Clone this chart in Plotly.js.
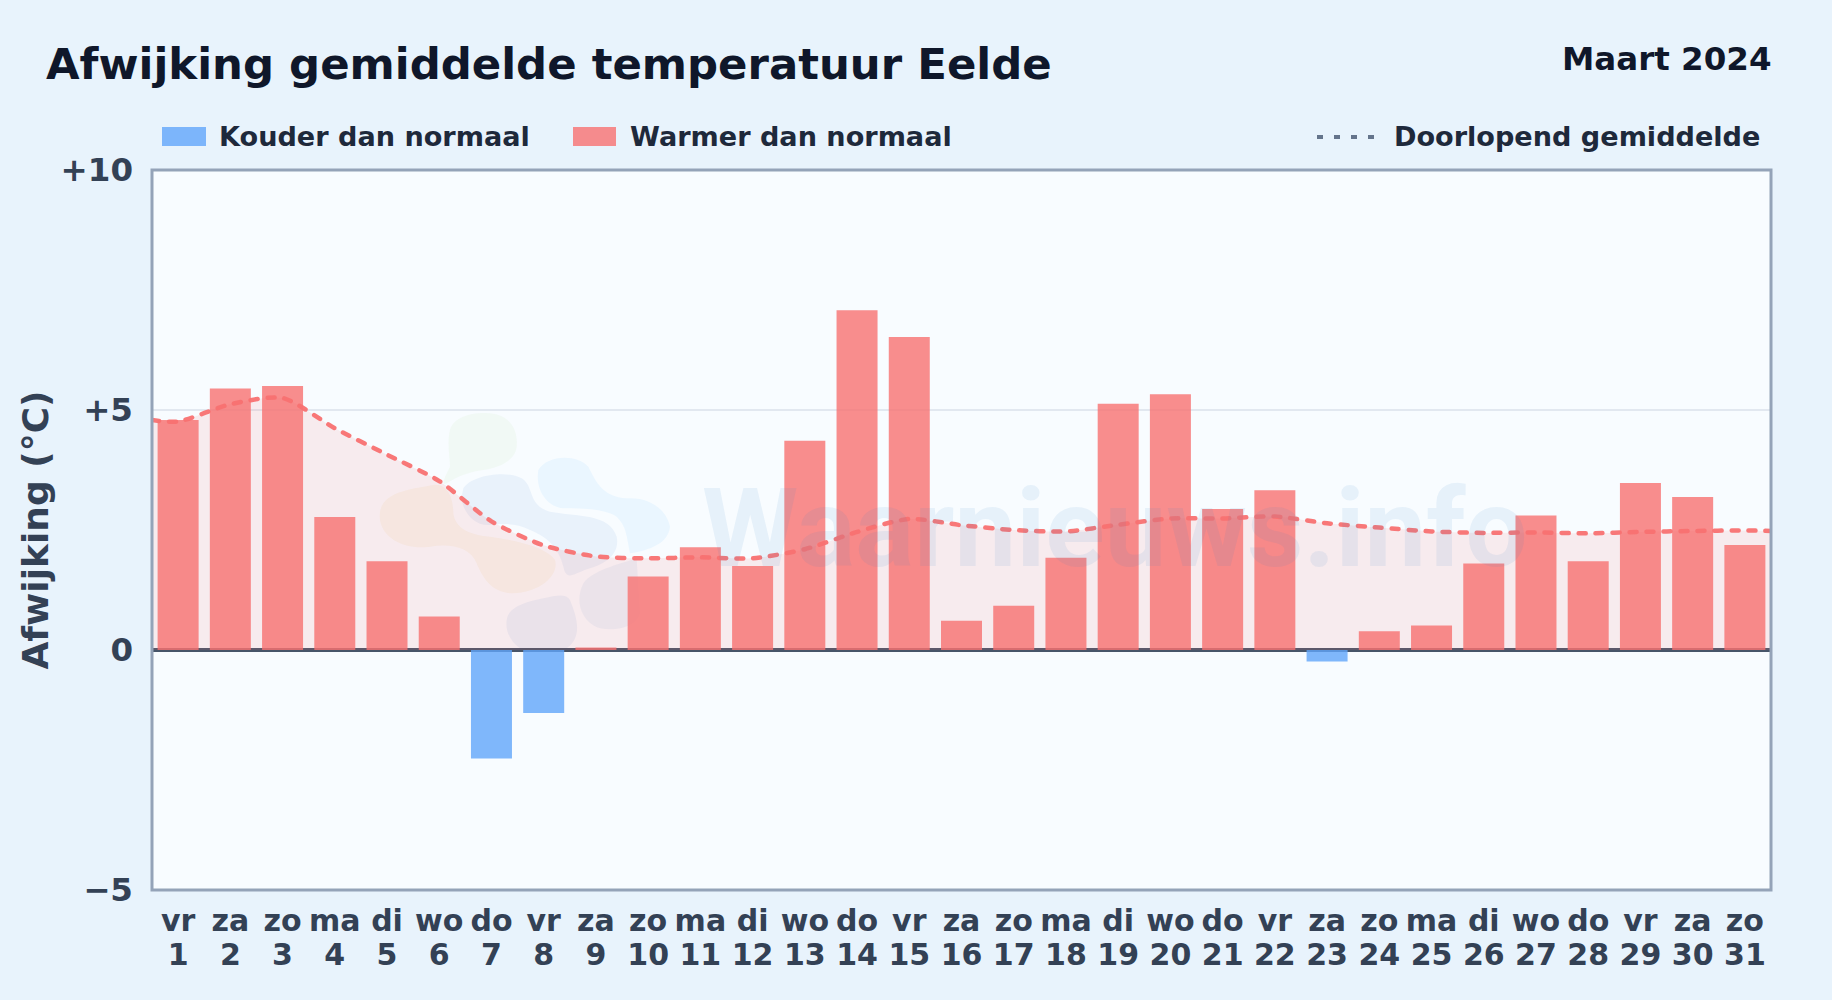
<!DOCTYPE html>
<html>
<head>
<meta charset="utf-8">
<script src="https://cdn.plot.ly/plotly-3.0.1.min.js"></script>
<style>html,body{margin:0;padding:0;background:#e8f3fc;overflow:hidden}
.scatterlayer .js-line{stroke-linecap:round !important}</style>
</head>
<body>
<div id="chart" style="width:1832px;height:1000px"></div>
<script>
const days = [1,2,3,4,5,6,7,8,9,10,11,12,13,14,15,16,17,18,19,20,21,22,23,24,25,26,27,28,29,30,31];
const weekdays = ['vr','za','zo','ma','di','wo','do','vr','za','zo','ma','di','wo','do','vr','za','zo','ma','di','wo','do','vr','za','zo','ma','di','wo','do','vr','za','zo'];
const deviation = [4.79,5.45,5.50,2.77,1.85,0.70,-2.26,-1.31,0.05,1.53,2.14,1.75,4.36,7.08,6.52,0.61,0.92,1.92,5.13,5.33,2.94,3.33,-0.24,0.39,0.51,1.80,2.80,1.85,3.48,3.19,2.19];
const runningX = [0.5,1,2,3,4,5,6,7,8,9,10,11,12,13,14,15,16,17,18,19,20,21,22,23,24,25,26,27,28,29,30,31,31.5];
const runningMean = [4.79,4.76,5.12,5.25,4.62,4.07,3.52,2.68,2.18,1.95,1.91,1.93,1.91,2.10,2.46,2.73,2.60,2.50,2.47,2.61,2.74,2.74,2.78,2.64,2.55,2.47,2.44,2.45,2.43,2.46,2.48,2.49,2.48];
const yTickVals = [-5,0,5,10];
const yTickText = ['\u22125','0','+5','+10'];
const WARM = 'rgba(248,113,113,0.8)', COLD = 'rgba(96,165,250,0.8)';
const W = 1832, H = 1000;
const L = 152, R = 1771, T = 170, B = 890;
const FONT = '"DejaVu Sans", sans-serif';
const px = x => (x - L) / (R - L), py = y => (B - y) / (B - T);

// faint logo blobs behind the chart, given in a local frame
function blob(d, fill) {
  let i = 0;
  const path = d.replace(/-?\d+(\.\d+)?/g, n => {
    const v = parseFloat(n);
    const out = (i++ % 2 === 0) ? px(350 + v / 3) : py(380 + v / 3);
    return out.toFixed(5);
  });
  return {type:'path', xref:'paper', yref:'paper', layer:'below', path, fillcolor:fill, line:{width:0}};
}
const blobs = [
  blob('M 300 150 C 310 110 370 95 420 100 C 480 105 505 150 500 200 C 495 245 440 265 400 270 C 360 275 320 290 290 310 C 270 320 285 290 300 260 C 300 230 290 190 300 150 Z','rgba(190,230,160,0.10)'),
  blob('M 100 370 C 130 330 200 325 250 315 C 290 310 310 350 310 400 C 315 440 350 465 420 470 C 490 480 590 500 615 540 C 630 590 560 640 490 640 C 430 640 400 600 380 550 C 360 500 300 490 240 500 C 170 510 100 480 90 420 C 88 400 90 385 100 370 Z','rgba(235,205,130,0.13)'),
  blob('M 340 325 C 365 285 470 270 515 295 C 555 320 530 375 600 395 C 680 410 780 400 800 470 C 810 520 770 550 720 565 C 680 575 650 610 640 560 C 625 500 590 470 540 450 C 500 430 470 430 420 435 C 370 440 335 390 335 350 Z','rgba(59,130,200,0.08)'),
  blob('M 470 720 C 475 680 530 665 580 655 C 620 645 650 640 660 660 C 680 710 700 770 650 805 L 510 805 C 480 785 465 750 470 720 Z','rgba(59,130,200,0.08)'),
  blob('M 700 610 C 730 570 800 555 860 535 L 870 700 C 860 740 800 755 750 745 C 700 730 670 670 700 610 Z','rgba(59,130,200,0.07)'),
  blob('M 565 270 C 590 225 680 220 715 260 C 740 310 760 350 830 355 C 900 350 950 390 960 440 C 955 490 900 510 840 520 C 830 470 830 440 800 410 C 760 385 690 385 640 385 C 590 380 555 330 565 270 Z','rgba(56,170,248,0.07)')
];

const frame = {type:'rect', xref:'paper', yref:'paper', x0:0, x1:1, y0:0, y1:1, layer:'above', fillcolor:'rgba(0,0,0,0)', line:{color:'#94a3b8', width:3}};
const legendShapes = [
  {type:'rect', xref:'paper', yref:'paper', x0:px(162), x1:px(206), y0:py(127), y1:py(146), fillcolor:COLD, line:{width:0}},
  {type:'rect', xref:'paper', yref:'paper', x0:px(573), x1:px(616), y0:py(127), y1:py(146), fillcolor:WARM, line:{width:0}},
  {type:'line', xref:'paper', yref:'paper', x0:px(1317), x1:px(1376), y0:py(137), y1:py(137), line:{color:'#64748b', width:4, dash:'6px,11px'}}
];
const note = (text, x, y, size, color, anchor, weight) => ({
  text, xref:'paper', yref:'paper', x:px(x), y:py(y), xanchor:anchor, yanchor:'middle', showarrow:false,
  font:{family:FONT, size, color, weight:weight||700}
});

const traces = [
  {type:'scatter', mode:'none', x:runningX, y:runningMean, fill:'tozeroy', fillcolor:'rgba(248,113,113,0.12)', line:{shape:'spline', smoothing:0.7}, hoverinfo:'skip', showlegend:false},
  {type:'bar', x:days, y:deviation, width:0.785, marker:{color:deviation.map(v => v < 0 ? COLD : WARM), line:{width:0}}, showlegend:false},
  {type:'scatter', mode:'lines', x:runningX, y:runningMean, line:{color:'rgba(248,113,113,0.95)', width:4.5, dash:'7px,10px', shape:'spline', smoothing:0.7}, showlegend:false},
  // carries the second row of tick labels (day numbers)
  {type:'scatter', mode:'none', x:days, y:deviation, xaxis:'x2', hoverinfo:'skip', showlegend:false}
];

const layout = {
  width:W, height:H, autosize:false, showlegend:false,
  paper_bgcolor:'#e8f3fc', plot_bgcolor:'#f8fcff',
  margin:{l:L, r:W-R, t:T, b:H-B, pad:0},
  title:{text:'Afwijking gemiddelde temperatuur Eelde', x:46/W, xanchor:'left', xref:'container', y:1-64/H, yanchor:'middle', yref:'container', font:{family:FONT, size:43.4, color:'#0f172a', weight:700}},
  xaxis:{range:[0.5,31.5], tickmode:'array', tickvals:days, ticktext:weekdays, tickangle:0,
    tickfont:{family:FONT, size:30, color:'#334155', weight:700}, ticks:'', ticklabelstandoff:10,
    showgrid:false, zeroline:false, showline:false, automargin:false},
  xaxis2:{range:[0.5,31.5], overlaying:'x', anchor:'y', side:'bottom', tickmode:'array', tickvals:days, ticktext:days.map(String), tickangle:0,
    tickfont:{family:FONT, size:30, color:'#334155', weight:700}, ticks:'', ticklabelstandoff:44,
    showgrid:false, zeroline:false, showline:false, automargin:false},
  yaxis:{range:[-5,10], tickmode:'array', tickvals:yTickVals, ticktext:yTickText,
    tickfont:{family:FONT, size:32.5, color:'#334155', weight:700}, ticks:'', ticklabelstandoff:18,
    showgrid:true, gridcolor:'#e2e8f0', gridwidth:2, zeroline:true, zerolinecolor:'#475569', zerolinewidth:4,
    showline:false, automargin:false,
    title:{text:'Afwijking (\u00b0C)', standoff:0, font:{family:FONT, size:36, color:'#334155', weight:700}}},
  shapes:[...blobs, frame, ...legendShapes],
  annotations:[
    note('Maart 2024', 1774, 59, 32.5, '#0f172a', 'right'),
    note('Kouder dan normaal', 217, 137, 27.1, '#1e293b', 'left'),
    note('Warmer dan normaal', 628, 137, 27.1, '#1e293b', 'left'),
    note('Doorlopend gemiddelde', 1762, 137, 27.1, '#1e293b', 'right'),
    {text:'Waarnieuws.info', xref:'paper', yref:'paper', x:px(700), y:py(528), xanchor:'left', yanchor:'middle', showarrow:false,
     font:{family:'Roboto, sans-serif', size:110, color:'rgba(59,130,200,0.09)', weight:700}}
  ]
};
Plotly.newPlot('chart', traces, layout, {displayModeBar:false, staticPlot:true});
</script>
</body>
</html>
